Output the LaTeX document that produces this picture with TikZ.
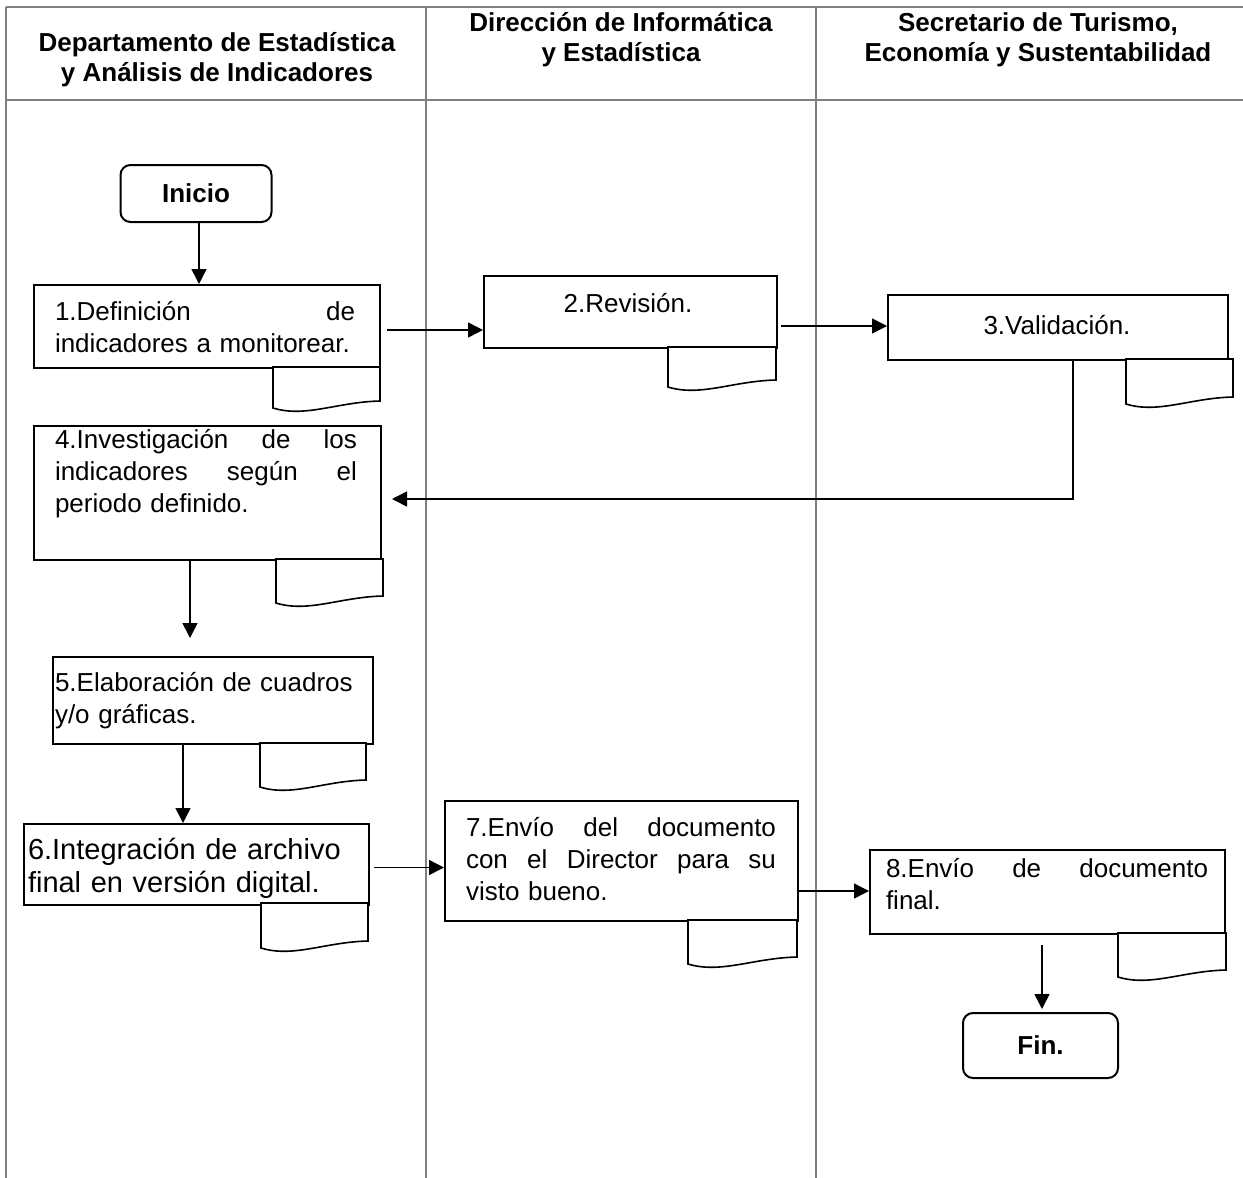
\documentclass[tikz,border=0pt]{standalone}
\usepackage{fontspec}
\setmainfont{Liberation Sans}
\usetikzlibrary{arrows.meta,calc}

\definecolor{lanegray}{HTML}{808080}

% document symbol hanging under a step: top-left corner, width, height (px units)
\newcommand{\docsheet}[4]{%
  \begin{scope}[shift={(#1,#2)}]
    \draw[docline] (0,0) -- (0,#4)
      .. controls (0.3*#3,#4+10) and (0.6*#3,#4-6) .. (#3,#4-7)
      -- (#3,0) -- cycle;
  \end{scope}}

\begin{document}
\begin{tikzpicture}[x=0.5pt,y=-0.5pt,
  lane/.style={draw=lanegray, line width=1pt},
  stepbox/.style={draw, line width=1pt, rectangle, inner sep=0pt, anchor=north west},
  steptext/.style={font=\fontsize{13}{16}\selectfont, inner sep=0pt, align=left},
  headtext/.style={font=\fontsize{13}{15}\selectfont\bfseries, inner sep=0pt, align=center},
  term/.style={draw, line width=1pt, rounded corners=5pt, inner sep=0pt,
    font=\fontsize{13}{15}\selectfont\bfseries},
  flow/.style={-{Triangle[length=7.5pt,width=7.5pt]}, line width=0.75pt},
  docline/.style={draw, line width=0.8pt, fill=white}]

\useasboundingbox (0,0) rectangle (1243,1178);

% swimlane grid
\draw[lane] (6,7) -- (1243,7);
\draw[lane] (6,100) -- (1243,100);
\draw[lane] (6,7) -- (6,1178);
\draw[lane] (426,7) -- (426,1178);
\draw[lane] (816,7) -- (816,1178);

% lane headings
\node[headtext] (h1) at (217,60) {Departamento de Estadística\\y Análisis de Indicadores};
\node[headtext] (h2) at (621,40) {Dirección de Informática\\y Estadística};
\node[headtext] (h3) at (1038,40) {Secretario de Turismo,\\Economía y Sustentabilidad};

% terminals
\node[term, minimum width=75.5pt, minimum height=28.5pt] (ini) at (196,193.5) {Inicio};
\node[term, minimum width=77.5pt, minimum height=32.5pt] (fin) at (1040.5,1045.5) {Fin.};

% process steps
\node[stepbox, minimum width=173pt, minimum height=41.5pt] (b1) at (33,284) {};
\node[stepbox, minimum width=146.5pt, minimum height=36pt] (b2) at (483,275) {};
\node[stepbox, minimum width=170pt, minimum height=32.5pt] (b3) at (887,294) {};
\node[stepbox, minimum width=173.5pt, minimum height=67pt] (b4) at (33,425) {};
\node[stepbox, minimum width=160pt, minimum height=43.5pt] (b5) at (52,656) {};
\node[stepbox, minimum width=172.5pt, minimum height=40.5pt] (b6) at (23,823) {};
\node[stepbox, minimum width=176.5pt, minimum height=60pt] (b7) at (444,800) {};
\node[stepbox, minimum width=177.5pt, minimum height=42pt] (b8) at (869,849) {};

% step texts
\node[steptext, text width=150pt] (t1) at (205,327.5)
  {1.Definición\hfill de\\indicadores a monitorear.};
\node[steptext] (t2) at (628,303) {2.Revisión.};
\node[steptext] (t3) at (1057,325) {3.Validación.};
\node[steptext, text width=151pt] (t4) at (206,474)
  {4.Investigación\hfill de\hfill los\\indicadores\hfill según\hfill el\\periodo definido.};
\node[steptext, text width=150pt] (t5) at (205,701)
  {5.Elaboración de cuadros\\y/o gráficas.};
\node[steptext, text width=162pt, font=\fontsize{14.5}{16.5}\selectfont] (t6) at (190,868)
  {6.Integración de archivo\\final en versión digital.};
\node[steptext, text width=155pt] (t7) at (621,859)
  {7.Envío\hfill del\hfill documento\\con\hfill el\hfill Director\hfill para\hfill su\\visto bueno.};
\node[steptext, text width=161pt] (t8) at (1047,884)
  {8.Envío\hfill de\hfill documento\\final.};

% documents produced by each step
\docsheet{273}{367}{107}{41}
\docsheet{668}{347}{108}{40}
\docsheet{1126}{359}{107}{45}
\docsheet{276}{559}{107}{44}
\docsheet{260}{743}{106}{44}
\docsheet{261}{903}{107}{45}
\docsheet{688}{920}{109}{44}
\docsheet{1118}{933}{108}{44}

% flow connectors
\draw[flow] ($(ini.south)+(3,0)$) coordinate (c0) -- (c0 |- b1.north);
\draw[flow] ($(b1.east)+(6,3.5)$) coordinate (c1) -- (c1 -| b2.west);
\draw[flow] ($(b2.east |- b3.west)+(3,-1.5)$) coordinate (c2) -- (c2 -| b3.west);
\draw[flow] ($(b3.south)+(15,-2)$) |- ($(b4.east)+(10,6)$);
\draw[flow] ($(b4.south west)+(157,0)$) -- ($(b5.north west)+(138,-18)$);
\draw[flow] ($(b5.south west)+(131,0)$) coordinate (c5) -- (c5 |- b6.north);
\draw[flow] ($(b6.east)+(4,3)$) coordinate (c6) -- (c6 -| b7.west);
\draw[flow] ($(b7.east)+(0,30)$) coordinate (c7) -- (c7 -| b8.west);
\draw[flow] ($(b8.south)+(-5.5,10)$) coordinate (c8) -- ($(c8 |- fin.north)+(0,-3)$);

\end{tikzpicture}
\end{document}
